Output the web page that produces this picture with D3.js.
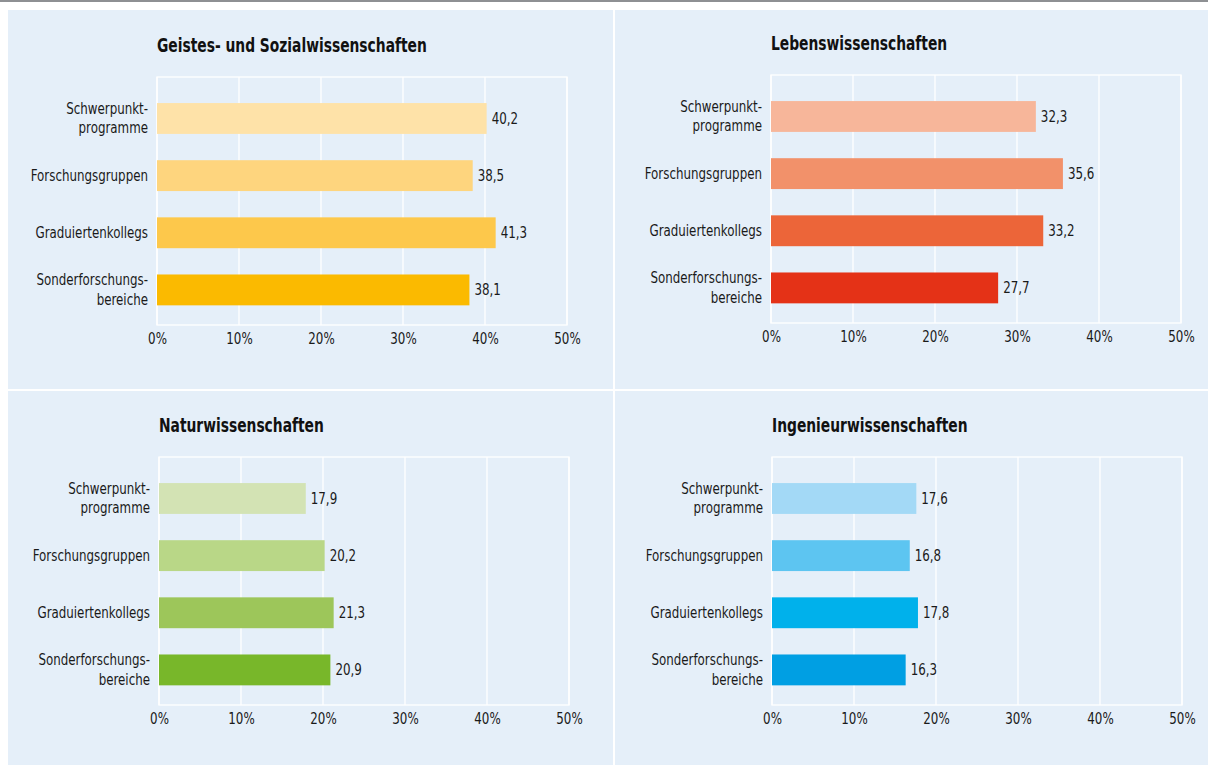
<!DOCTYPE html>
<html>
<head>
<meta charset="utf-8">
<script src="https://cdn.jsdelivr.net/npm/d3@7"></script>
<style>
  html, body { margin: 0; padding: 0; background: #ffffff; }
  svg { display: block; }
  .lbl { font-family: "DejaVu Sans Condensed", "DejaVu Sans", sans-serif; font-stretch: condensed; }
</style>
</head>
<body>
<svg id="chart" width="1208" height="765"></svg>
<script>
// ---------- data ----------
const categories = ["Schwerpunktprogramme", "Forschungsgruppen", "Graduiertenkollegs", "Sonderforschungsbereiche"];
const categoryLines = [["Schwerpunkt-", "programme"], ["Forschungsgruppen"], ["Graduiertenkollegs"], ["Sonderforschungs-", "bereiche"]];
const panelTitles = ["Geistes- und Sozialwissenschaften", "Lebenswissenschaften", "Naturwissenschaften", "Ingenieurwissenschaften"];
const valuesGeistes = [40.2, 38.5, 41.3, 38.1];
const valuesLeben = [32.3, 35.6, 33.2, 27.7];
const valuesNatur = [17.9, 20.2, 21.3, 20.9];
const valuesIngenieur = [17.6, 16.8, 17.8, 16.3];
const xTicks = [0, 10, 20, 30, 40, 50];
const xMax = 50;
const colorsGeistes = ["#FEE2A8", "#FED57E", "#FDC84B", "#FBBA00"];
const colorsLeben = ["#F7B69A", "#F2916A", "#EC6539", "#E43217"];
const colorsNatur = ["#D3E3B4", "#B9D787", "#9DC65A", "#78B72A"];
const colorsIngenieur = ["#A3D9F6", "#5DC5F1", "#00B1EB", "#009FE3"];

// ---------- layout ----------
const panels = [
  { title: panelTitles[0], values: valuesGeistes, colors: colorsGeistes, bx: 8,   by: 10,  bw: 605, bh: 379, gx: 157, gy: 77 },
  { title: panelTitles[1], values: valuesLeben, colors: colorsLeben,       bx: 615, by: 10,  bw: 593, bh: 379, gx: 771, gy: 75 },
  { title: panelTitles[2], values: valuesNatur, colors: colorsNatur,       bx: 8,   by: 391, bw: 605, bh: 374, gx: 159, gy: 457 },
  { title: panelTitles[3], values: valuesIngenieur, colors: colorsIngenieur, bx: 615, by: 391, bw: 593, bh: 374, gx: 772, gy: 457 }
];
const gw = 410, gh = 248;
const sxText = 0.88;   // horizontal condensing to mimic the condensed print font
const sxTitle = 0.81;

const svg = d3.select("#chart");
svg.append("rect").attr("x", 0).attr("y", 0).attr("width", 1208).attr("height", 765).attr("fill", "#ffffff");
svg.append("rect").attr("x", 0).attr("y", 0).attr("width", 1208).attr("height", 2).attr("fill", "#8E9093");

const fmt = d3.format(".1f");

panels.forEach(p => {
  svg.append("rect").attr("x", p.bx).attr("y", p.by).attr("width", p.bw).attr("height", p.bh).attr("fill", "#E5EFF9");

  const g = svg.append("g").attr("transform", `translate(${p.gx},${p.gy})`);
  const x = d3.scaleLinear().domain([0, xMax]).range([0, gw]);
  const y = d3.scaleBand().domain(categories).range([0, gh]).paddingInner(0.46).paddingOuter(0.4).align(0.57);

  // grid
  g.append("rect").attr("x", 0).attr("y", 0).attr("width", gw).attr("height", gh)
    .attr("fill", "none").attr("stroke", "#ffffff").attr("stroke-width", 1.3);
  g.selectAll("line.grid").data(xTicks).join("line").attr("class", "grid")
    .attr("x1", d => x(d)).attr("x2", d => x(d)).attr("y1", 0).attr("y2", gh)
    .attr("stroke", "#ffffff").attr("stroke-width", 1.3);

  // bars
  g.selectAll("rect.bar").data(p.values).join("rect").attr("class", "bar")
    .attr("x", x(0)).attr("y", (d, i) => y(categories[i]))
    .attr("width", d => x(d)).attr("height", y.bandwidth())
    .attr("fill", (d, i) => p.colors[i]);

  // value labels
  g.selectAll("text.val").data(p.values).join("text").attr("class", "val lbl")
    .attr("transform", (d, i) => `translate(${x(d) + 5},${y(categories[i]) + y.bandwidth() / 2}) scale(${sxText},1)`)
    .attr("dy", "0.35em").attr("font-size", 15).attr("fill", "#1a1a1a")
    .text(d => fmt(d).replace(".", ","));

  // category labels
  categories.forEach((c, i) => {
    const lines = categoryLines[i];
    const cy = y(c) + y.bandwidth() / 2;
    const t = g.append("text").attr("class", "lbl").attr("text-anchor", "end")
      .attr("transform", `translate(-9,${cy}) scale(${sxText},1)`)
      .attr("font-size", 15).attr("fill", "#1a1a1a");
    lines.forEach((ln, k) => {
      t.append("tspan").attr("x", 0)
        .attr("y", (k - (lines.length - 1) / 2) * 19.5)
        .attr("dy", "0.35em").text(ln);
    });
  });

  // x axis
  const ax = g.append("g").attr("transform", `translate(0,${gh})`)
    .call(d3.axisBottom(x).tickValues(xTicks).tickSize(0).tickPadding(8).tickFormat(d => d + "%"));
  ax.select(".domain").remove();
  ax.selectAll("text").attr("class", "lbl").attr("font-size", 15).attr("fill", "#1a1a1a")
    .attr("transform", `scale(${sxText},1)`);

  // title
  svg.append("text").attr("class", "lbl")
    .attr("transform", `translate(${p.gx},${p.gy - 25}) scale(${sxTitle},1)`)
    .attr("font-size", 19).attr("font-weight", "bold").attr("fill", "#111111")
    .text(p.title);
});
</script>
</body>
</html>
